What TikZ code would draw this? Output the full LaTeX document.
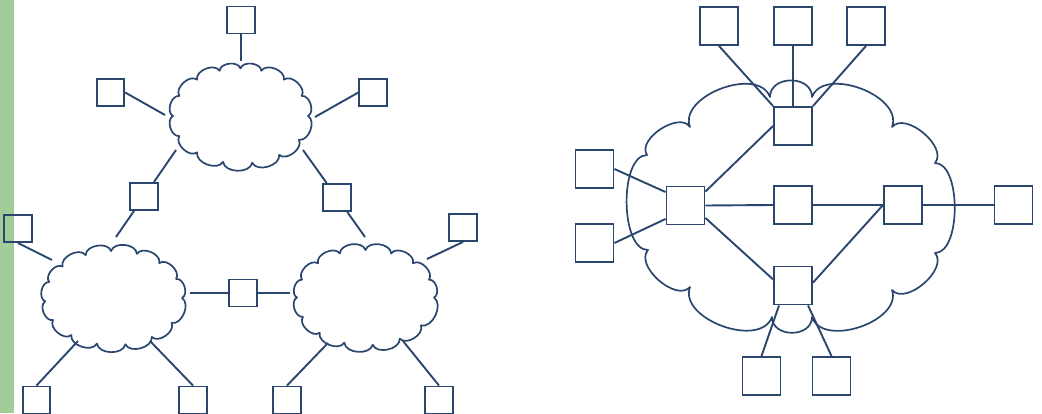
\documentclass[tikz,border=0pt]{standalone}
\usetikzlibrary{calc}
\definecolor{ln}{RGB}{42,70,110}
\definecolor{gbar}{RGB}{160,205,152}
\newcommand\puffcloud[4]{%
  \draw[cl,shift={(#1)}] (0:#2pt and #3pt) \foreach \a in {#4} { to[bend right=80] (\a:#2pt and #3pt) } -- cycle;
}
\begin{document}
\begin{tikzpicture}[x=1pt,y=1pt,
  ln/.style={draw=ln, line width=1.9pt},
  sq/.style={draw=ln, line width=1.9pt, minimum width=27.5pt, minimum height=27pt, inner sep=0pt},
  bsq/.style={sq, minimum width=38pt, minimum height=38pt},
  cl/.style={draw=ln, line width=1.7pt, line join=round}]
\useasboundingbox (0,0) rectangle (1042,413);
\fill[gbar] (0,0) rectangle (14,413);

% ---------- left figure ----------
\coordinate (C1) at (240.5,297);
\coordinate (C2) at (113.5,115);
\coordinate (C3) at (365.5,115.5);
\puffcloud{C1}{67.5}{47.5}{25,50,72,90,108,130,155,180,205,230,255,280,305,330,360}
\puffcloud{C2}{68.5}{47}{24,48,70,92,114,138,160,184,208,232,256,280,304,328,360}
\puffcloud{C3}{68.5}{47.5}{22,46,68,90,112,134,158,180,204,228,252,276,300,324,360}

\node[sq] (T0) at (241,393) {};
\node[sq] (TL) at (110.5,320.5) {};
\node[sq] (TR) at (373,320.5) {};
\node[sq] (RL) at (144,216.5) {};
\node[sq] (RR) at (337,215.5) {};
\node[sq] (FL) at (18,184.5) {};
\node[sq] (FR) at (463,185.5) {};
\node[sq] (RM) at (243,120) {};
\node[sq] (B1) at (36.5,13) {};
\node[sq] (B2) at (193,13) {};
\node[sq] (B3) at (287,13) {};
\node[sq] (B4) at (439,13) {};

\coordinate (c1t) at (241,352);
\coordinate (c1w) at (165,298);
\coordinate (c1e) at (315,296);
\coordinate (c1sw) at (176,263);
\coordinate (c1se) at (303,263);
\coordinate (c2n) at (116,176);
\coordinate (c3n) at (365,176);
\coordinate (c2nw) at (52,153);
\coordinate (c3ne) at (427,154);
\coordinate (c2e) at (190,120);
\coordinate (c3w) at (290,120);
\coordinate (c2sw) at (78,72);
\coordinate (c2se) at (150,72);
\coordinate (c3sw) at (328,70);
\coordinate (c3se) at (403,72);

\draw[ln] (T0.south) -- (c1t);
\draw[ln] (TL.east) -- (c1w);
\draw[ln] (TR.west) -- (c1e);
\draw[ln] (c1sw) -- (RL);
\draw[ln] (RL) -- (c2n);
\draw[ln] (c1se) -- (RR);
\draw[ln] (RR) -- (c3n);
\draw[ln] (FL.south) -- (c2nw);
\draw[ln] (FR.south) -- (c3ne);
\draw[ln] (c2e) -- (RM.west);
\draw[ln] (RM.east) -- (c3w);
\draw[ln] (c2sw) -- (B1.north);
\draw[ln] (c2se) -- (B2.north);
\draw[ln] (c3sw) -- (B3.north);
\draw[ln] (c3se) -- (B4.north);

% ---------- right figure ----------
\draw[cl] (812,316) to[bend left=90,looseness=1] (892,286)
  to[bend left=90,looseness=0.95] (935,250)
  to[bend left=90,looseness=0.75] (935,160)
  to[bend left=90,looseness=0.95] (892,123)
  to[bend left=90,looseness=1] (812,96)
  to[bend left=90,looseness=1.35] (772,96)
  to[bend left=90,looseness=1] (690,126)
  to[bend left=90,looseness=0.95] (648,163)
  to[bend left=90,looseness=0.75] (647,258)
  to[bend left=90,looseness=0.95] (690,286)
  to[bend left=90,looseness=1] (770,316)
  to[bend left=90,looseness=1.35] (812,316) -- cycle;

\node[bsq] (H1) at (719,387) {};
\node[bsq] (H2) at (793,387) {};
\node[bsq] (H3) at (866,387) {};
\node[bsq] (R1) at (793,287) {};
\node[bsq] (rRL) at (685.5,207.5) {};
\node[bsq] (rRM) at (793,208) {};
\node[bsq] (rRR) at (903,208) {};
\node[bsq] (rRB) at (793,127.5) {};
\node[bsq] (HLU) at (594.5,244) {};
\node[bsq] (HLL) at (594.5,170) {};
\node[bsq] (HR) at (1013.5,208) {};
\node[bsq] (HB1) at (761.5,37) {};
\node[bsq] (HB2) at (831.5,37) {};

\draw[ln] (H1.south) -- (R1.north west);
\draw[ln] (H2.south) -- (R1.north);
\draw[ln] (H3.south) -- (R1.north east);
\draw[ln] (rRL.35) -- (R1.west);
\draw[ln] (rRL.east) -- (rRM.west);
\draw[ln] (rRM.east) -- (rRR.west);
\draw[ln] (rRR.east) -- (HR.west);
\draw[ln] (rRL.-32) -- (rRB.163);
\draw[ln] (rRB.8) -- (rRR.west);
\draw[ln] (HLU.east) -- (rRL.146);
\draw[ln] (HLL.east) -- (rRL.214);
\draw[ln] (rRB.235) -- (HB1.north);
\draw[ln] (rRB.307) -- (HB2.north);
\end{tikzpicture}
\end{document}
